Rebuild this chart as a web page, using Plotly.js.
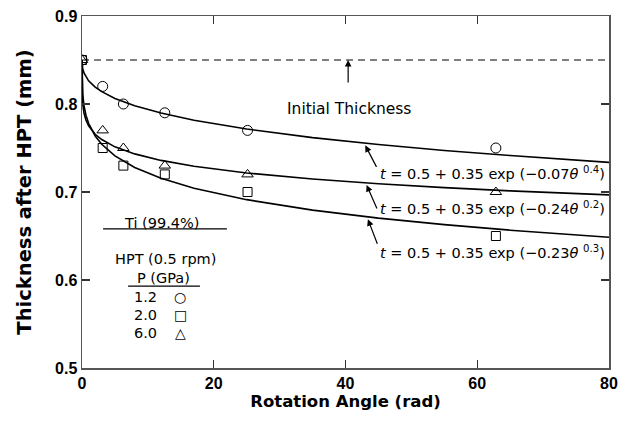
<!DOCTYPE html>
<html><head><meta charset="utf-8">
<script src="https://cdn.plot.ly/plotly-3.0.1.min.js"></script>
<style>html,body{margin:0;padding:0;background:#fff}#chart{width:632px;height:424px}</style>
</head><body><div id="chart"></div>
<script>
// measured points (rotation angle in rad, thickness in mm)
const angles = [0, 3.14, 6.28, 12.57, 25.13, 62.83];
const thick12 = [0.85, 0.82, 0.80, 0.79, 0.77, 0.75];   // 1.2 GPa, circles
const thick20 = [0.85, 0.75, 0.73, 0.72, 0.70, 0.65];   // 2.0 GPa, squares
const thick60 = [0.85, 0.77, 0.75, 0.73, 0.72, 0.70];   // 6.0 GPa, triangles

// fitted curves
const curveX  = [0, 0.1, 0.3, 0.6, 1, 2, 3, 5, 8, 12, 17, 25, 35, 45, 55, 65, 80];
const curve1  = [0.85, 0.8404, 0.8352, 0.8306, 0.8263, 0.8191, 0.8140, 0.8063, 0.7980, 0.7897, 0.7816, 0.7716, 0.7618, 0.7539, 0.7472, 0.7414, 0.7337];
const curve2  = [0.85, 0.8008, 0.7898, 0.7818, 0.7753, 0.7656, 0.7596, 0.7513, 0.7433, 0.7359, 0.7293, 0.7216, 0.7147, 0.7094, 0.7050, 0.7013, 0.6967];
const curve3  = [0.85, 0.8119, 0.7982, 0.7873, 0.7781, 0.7637, 0.7542, 0.7411, 0.7279, 0.7156, 0.7043, 0.6913, 0.6794, 0.6703, 0.6629, 0.6566, 0.6486];

const initialThickness = 0.85;
const xTicks = [0, 20, 40, 60, 80];
const yTicks = [0.5, 0.6, 0.7, 0.8, 0.9];
const pressures = ['1.2', '2.0', '6.0'];
const pressureSymbols = ['○', '□', '△'];
const equations = [
  '<i>t</i> = 0.5 + 0.35 exp (−0.07<i>θ</i> <sup>0.4</sup>)',
  '<i>t</i> = 0.5 + 0.35 exp (−0.24<i>θ</i> <sup>0.2</sup>)',
  '<i>t</i> = 0.5 + 0.35 exp (−0.23<i>θ</i> <sup>0.3</sup>)'
];

const FONT = 'DejaVu Sans, sans-serif';
const TICKFONT = 'Liberation Sans, Arial, sans-serif';
const lineStyle = {color: '#000', width: 1.6};
const mk = (sym, size) => ({symbol: sym, size: size, color: '#000', line: {color: '#000', width: 1}});

const traces = [
  {x: curveX, y: curve1, mode: 'lines', line: lineStyle, hoverinfo: 'skip'},
  {x: curveX, y: curve2, mode: 'lines', line: lineStyle, hoverinfo: 'skip'},
  {x: curveX, y: curve3, mode: 'lines', line: lineStyle, hoverinfo: 'skip'},
  {x: angles, y: thick12, mode: 'markers', marker: mk('circle-open', 10)},
  {x: angles, y: thick20, mode: 'markers', marker: mk('square-open', 9)},
  {x: angles, y: thick60, mode: 'markers', marker: mk('triangle-up-open', 10)}
];

const txt = (x, y, text, size, opts) => Object.assign({x: x, y: y, xref: 'x', yref: 'y', text: text, showarrow: false,
  font: {family: FONT, size: size, color: '#000'}}, opts || {});
const arrow = (x, y, ax, ay) => ({x: x, y: y, xref: 'x', yref: 'y', text: '', showarrow: true,
  ax: ax, ay: ay, arrowhead: 2, arrowsize: 1.1, arrowwidth: 1.2, arrowcolor: '#000'});

const annotations = [
  txt(40.5, 0.794, 'Initial Thickness', 15.5),
  arrow(40.4, initialThickness, 0, 24),
  txt(45.0, 0.7216, equations[0], 14.5, {xanchor: 'left'}),
  txt(45.0, 0.6818, equations[1], 14.5, {xanchor: 'left'}),
  txt(45.0, 0.6318, equations[2], 14.5, {xanchor: 'left'}),
  arrow(43.0, 0.753, 12, 23),
  arrow(43.2, 0.708, 11, 25),
  arrow(43.4, 0.669, 10, 26),
  txt(12.0, 0.6648, 'Ti (99.4%)', 14.5),
  txt(12.6, 0.6239, 'HPT (0.5 rpm)', 14.5),
  txt(12.4, 0.6023, 'P (GPa)', 14.5)
];
const rowY = [0.5807, 0.5602, 0.5398];
pressures.forEach((p, i) => {
  annotations.push(txt(9.6, rowY[i], p, 14.5));
  annotations.push(txt(14.9, rowY[i], pressureSymbols[i], 14));
});

const shapes = [
  {type: 'line', xref: 'x', yref: 'y', x0: 0, x1: 80, y0: initialThickness, y1: initialThickness,
   line: {color: '#000', width: 1, dash: '7px,5px'}},
  {type: 'line', xref: 'x', yref: 'y', x0: 3.2, x1: 22.0, y0: 0.658, y1: 0.658, line: {color: '#000', width: 1.2}},
  {type: 'line', xref: 'x', yref: 'y', x0: 7.0, x1: 17.9, y0: 0.593, y1: 0.593, line: {color: '#000', width: 1.2}}
];

const axisCommon = {
  showline: true, linecolor: '#555', linewidth: 1.5, mirror: 'ticks',
  ticks: 'inside', ticklen: 8, tickwidth: 1.2, tickcolor: '#333',
  showgrid: false, zeroline: false,
  tickfont: {family: TICKFONT, size: 16, color: '#000', weight: 'bold'}
};

const layout = {
  width: 632, height: 424,
  margin: {l: 82, r: 23, t: 16, b: 56},
  paper_bgcolor: '#fff', plot_bgcolor: '#fff',
  showlegend: false,
  xaxis: Object.assign({}, axisCommon, {range: [0, 80], tickvals: xTicks, ticktext: xTicks.map(String),
    title: {text: 'Rotation Angle (rad)', font: {family: FONT, size: 16.5, color: '#000', weight: 'bold'}, standoff: 4}}),
  yaxis: Object.assign({}, axisCommon, {range: [0.5, 0.9], tickvals: yTicks, ticktext: yTicks.map(v => v.toFixed(1)),
    title: {text: 'Thickness after HPT (mm)', font: {family: FONT, size: 19.5, color: '#000', weight: 'bold'}, standoff: 18}}),
  annotations: annotations,
  shapes: shapes
};

Plotly.newPlot('chart', traces, layout, {staticPlot: true, displayModeBar: false});
</script>
</body></html>
